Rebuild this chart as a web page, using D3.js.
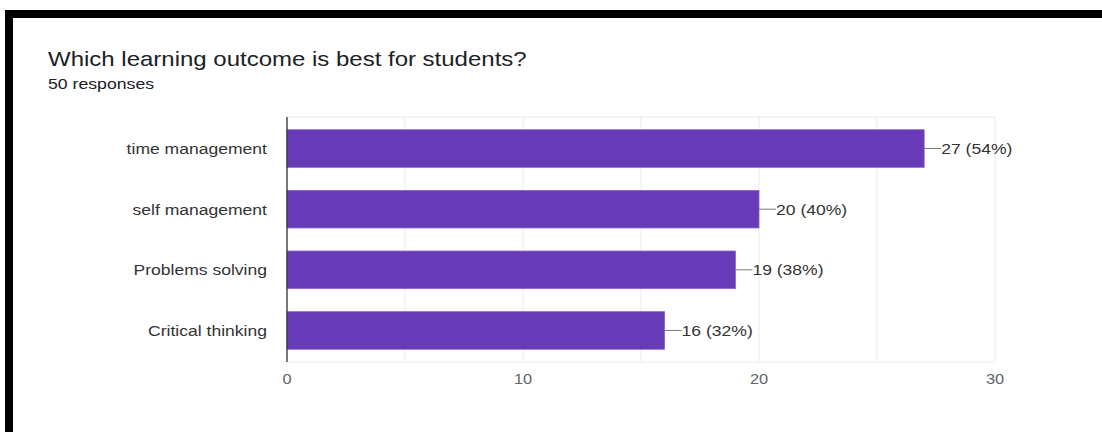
<!DOCTYPE html>
<html>
<head>
<meta charset="utf-8">
<script src="https://cdn.jsdelivr.net/npm/d3@7"></script>
<style>
  html, body { margin: 0; padding: 0; background: #fff; }
  svg { display: block; }
  text { font-family: "Liberation Sans", Arial, sans-serif; }
</style>
</head>
<body>
<svg id="chart" width="1102" height="432"></svg>
<script>
// Survey answers
const categories = ["time management", "self management", "Problems solving", "Critical thinking"];
const counts = [27, 20, 19, 16];
const totalResponses = 50;
const tickValues = [0, 10, 20, 30];
const gridValues = [0, 5, 10, 15, 20, 25, 30];
const titleText = "Which learning outcome is best for students?";
const subtitleText = totalResponses + " responses";

const W = 1102, H = 432;
const svg = d3.select("#chart");
const SX = 1.17; // horizontal text stretch

function stretchedText(parent, x, y, str, opts) {
  const g = parent.append("g").attr("transform", `translate(${x},${y}) scale(${opts.sx || SX},1)`);
  const t = g.append("text")
    .attr("x", 0).attr("y", 0)
    .attr("font-size", opts.size)
    .attr("fill", opts.fill)
    .attr("text-anchor", opts.anchor || "start")
    .attr("dominant-baseline", opts.baseline || "alphabetic")
    .text(str);
  return t;
}

// Frame
svg.append("rect").attr("x", 0).attr("y", 0).attr("width", W).attr("height", H).attr("fill", "#fff");
svg.append("rect").attr("x", 5).attr("y", 10).attr("width", W - 5).attr("height", 8).attr("fill", "#000");
svg.append("rect").attr("x", 5).attr("y", 10).attr("width", 8).attr("height", H - 10).attr("fill", "#000");

// Header
stretchedText(svg, 48, 66, titleText, { size: 20, fill: "#202124", sx: 1.2 });
stretchedText(svg, 48, 89, subtitleText, { size: 14.5, fill: "#202124", sx: 1.22 });

// Plot area
const plot = { left: 287, right: 995, top: 117, bottom: 362 };

const x = d3.scaleLinear().domain([0, 30]).range([plot.left, plot.right]);
const y = d3.scaleBand().domain(categories).range([plot.top, plot.bottom]).paddingInner(0.38).paddingOuter(0.21);

// Grid
svg.append("g").selectAll("line.grid").data(gridValues).join("line")
  .attr("x1", d => x(d)).attr("x2", d => x(d))
  .attr("y1", plot.top).attr("y2", plot.bottom)
  .attr("stroke", "#ebebeb").attr("stroke-width", 1);
svg.append("line")
  .attr("x1", plot.left).attr("x2", plot.right)
  .attr("y1", plot.top).attr("y2", plot.top)
  .attr("stroke", "#ebebeb");
svg.append("line")
  .attr("x1", plot.left).attr("x2", plot.right)
  .attr("y1", plot.bottom).attr("y2", plot.bottom)
  .attr("stroke", "#ebebeb");

// Bars
const data = categories.map((c, i) => ({ cat: c, v: counts[i] }));
svg.append("g").selectAll("rect.bar").data(data).join("rect")
  .attr("x", x(0))
  .attr("y", d => y(d.cat))
  .attr("width", d => x(d.v) - x(0))
  .attr("height", y.bandwidth())
  .attr("fill", "#673ab7")
  .attr("stroke", "#8a63cc")
  .attr("stroke-width", 0.8);

// Baseline axis
svg.append("line")
  .attr("x1", x(0)).attr("x2", x(0))
  .attr("y1", plot.top).attr("y2", plot.bottom)
  .attr("stroke", "#333").attr("stroke-width", 1.3);

// Category labels
data.forEach(d => {
  stretchedText(svg, 267, y(d.cat) + y.bandwidth() / 2, d.cat,
    { size: 15, fill: "#333", anchor: "end", baseline: "central" });
});

// Value labels with leader lines
data.forEach(d => {
  const cy = y(d.cat) + y.bandwidth() / 2;
  const ex = x(d.v);
  svg.append("line")
    .attr("x1", ex).attr("x2", ex + 17)
    .attr("y1", cy).attr("y2", cy)
    .attr("stroke", "#777").attr("stroke-width", 1);
  const pct = Math.round(d.v / totalResponses * 100);
  stretchedText(svg, ex + 17, cy, `${d.v} (${pct}%)`,
    { size: 15, fill: "#333", baseline: "central" });
});

// X tick labels
tickValues.forEach(t => {
  stretchedText(svg, x(t), 384, String(t), { size: 14, fill: "#5f6368", anchor: "middle" });
});
</script>
</body>
</html>
